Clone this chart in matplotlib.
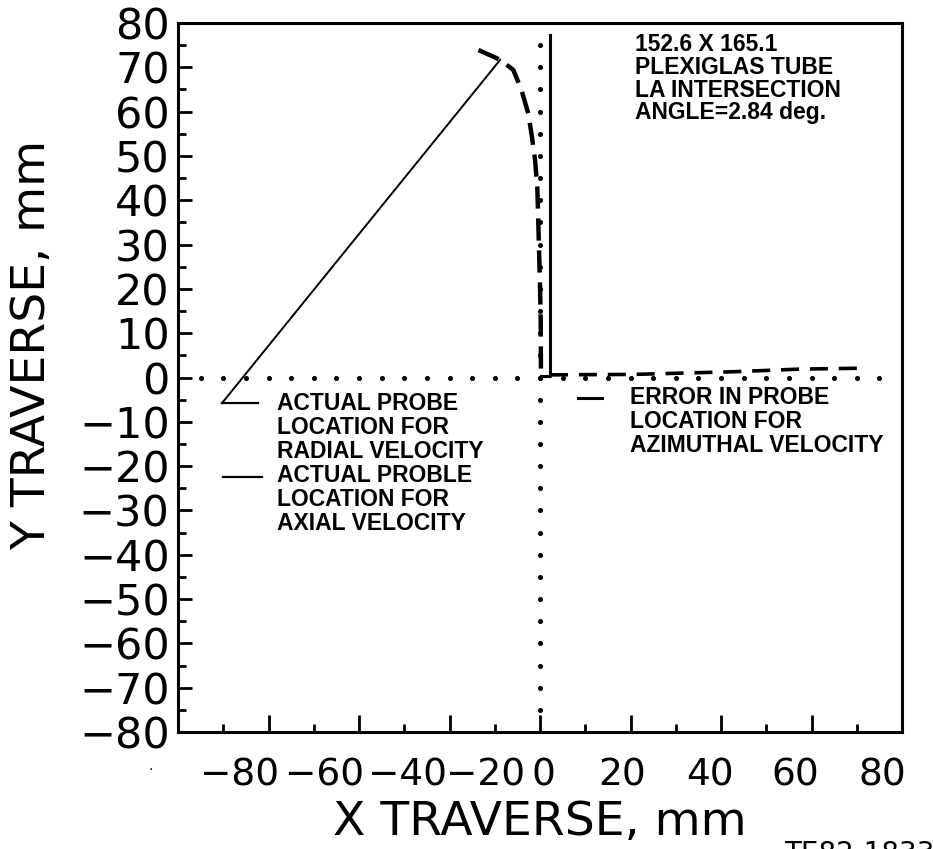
import matplotlib
matplotlib.use('Agg')
import matplotlib.pyplot as plt
import matplotlib.transforms as mtransforms
import numpy as np

# probe location traces (mm)
radial_x = [-70.3, -8.8]
radial_y = [-5.8, 71.7]

axial_x = [-13.6, -8.8, -5.9, -4.1, -2.6, -1.8, -1.1, -0.6, -0.4, -0.2, 0.0, 0.15, 0.2, 0.2]
axial_y = [73.9, 71.7, 69.4, 64.9, 59.6, 54.4, 49.1, 43.1, 35.6, 28.1, 20.5, 13.0, 2.4, 0.3]

wall_x = [0.2, 2.2, 2.2]
wall_y = [0.3, 0.3, 77.3]

azim_x = [2.2, 20.6, 42.7, 57.5, 71.4]
azim_y = [0.6, 0.7, 1.3, 1.9, 2.1]

x_ticks = [-80, -60, -40, -20, 0, 20, 40, 60, 80]
y_ticks = list(range(-80, 81, 10))

info_lines = ['152.6 X 165.1', 'PLEXIGLAS TUBE', 'LA INTERSECTION', 'ANGLE=2.84 deg.']
radial_lines = ['ACTUAL PROBE', 'LOCATION FOR', 'RADIAL VELOCITY']
axial_lines = ['ACTUAL PROBLE', 'LOCATION FOR', 'AXIAL VELOCITY']
azim_lines = ['ERROR IN PROBE', 'LOCATION FOR', 'AZIMUTHAL VELOCITY']


def minus(v):
    return f'{v}' if v >= 0 else f'\u2212{-v}'


def text_block(ax, x, y, lines, step_px=24):
    # stack lines a fixed pixel distance apart
    for i, line in enumerate(lines):
        ax.annotate(line, xy=(x, y), xytext=(0, -i * step_px * 0.72),
                    textcoords='offset points', va='center', ha='left',
                    fontsize=16.5, fontweight='bold', family='Liberation Sans')


def main():
    fig = plt.figure(figsize=(9.33, 8.49), dpi=100)
    ax = fig.add_axes([0.1908, 0.1378, 0.776, 0.8351])
    ax.set_xlim(-80, 80)
    ax.set_ylim(-80, 80)

    for sp in ax.spines.values():
        sp.set_linewidth(2.2)

    # dotted reference axes
    ref = np.arange(-75, 76, 5)
    ax.plot(ref, np.zeros_like(ref), ls='none', marker='o', ms=2.6, color='black')
    ax.plot(np.zeros_like(ref), ref, ls='none', marker='o', ms=2.6, color='black')

    ax.plot(radial_x, radial_y, color='black', lw=1.4)
    ax.plot(axial_x, axial_y, color='black', lw=3.2, dashes=(5, 2.2))
    ax.plot(wall_x, wall_y, color='black', lw=2.2)
    ax.plot(azim_x, azim_y, color='black', lw=2.6, dashes=(5, 3))

    # legend samples
    ax.plot([radial_x[0], -62.3], [radial_y[0], radial_y[0]], color='black', lw=1.6)
    ax.plot([-70.1, -61.4], [-22.5, -22.5], color='black', lw=1.6)
    ax.plot([8.4, 13.7], [-4.6, -4.6], color='black', lw=2.2)

    text_block(ax, -58.1, -5.8, radial_lines + axial_lines)
    text_block(ax, 19.9, -4.6, azim_lines)
    text_block(ax, 21.0, 75.1, info_lines, step_px=22.7)

    ax.set_xticks(x_ticks)
    ax.set_xticks(range(-70, 80, 20), minor=True)
    ax.set_yticks(y_ticks)
    ax.set_yticks(range(-75, 80, 10), minor=True)
    ax.tick_params(which='both', direction='in', top=False, right=False, width=2)
    ax.tick_params(axis='x', which='major', length=12, pad=18, labelsize=27)
    ax.tick_params(axis='x', which='minor', length=6)
    ax.tick_params(axis='y', which='major', length=10, pad=6, labelsize=31)
    ax.tick_params(axis='y', which='minor', length=6)
    ax.set_xticklabels([minus(v) for v in x_ticks])
    ax.set_yticklabels([minus(v) for v in y_ticks])

    # the original x labels sit squeezed toward the middle of the axis
    shifts = [62, 56, 48, 36, 3, -8, -11, -16, -20]
    for lab, dx in zip(ax.get_xticklabels(), shifts):
        lab.set_transform(lab.get_transform()
                          + mtransforms.ScaledTranslation(dx / 100, 0, fig.dpi_scale_trans))

    ax.set_xlabel('X TRAVERSE, mm', fontsize=34, labelpad=5)
    ax.set_ylabel('Y TRAVERSE, mm', fontsize=34)
    ax.yaxis.set_label_coords(-0.17, 0.546)

    fig.text(0.161, 0.098, '.', fontsize=10, ha='center', va='center')
    fig.text(0.84, 0.0106, 'TE82-1833', fontsize=20, ha='left', va='top')

    fig.savefig('out.png', dpi=100)


if __name__ == '__main__':
    main()
